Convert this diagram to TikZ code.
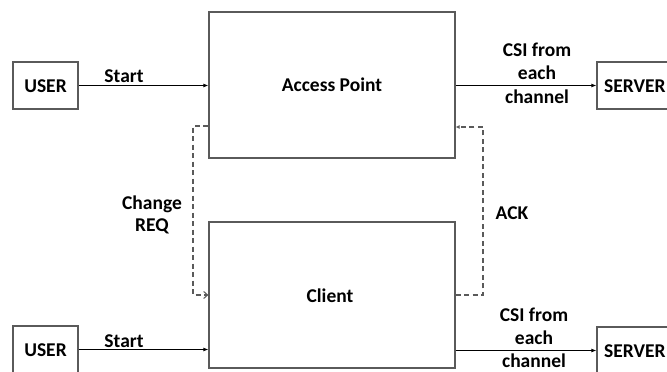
\documentclass[tikz,border=0pt]{standalone}
\usepackage{fontspec}
\setmainfont{Carlito}
\usetikzlibrary{arrows.meta}
\definecolor{edgegray}{HTML}{5A5A5A}
\tikzset{
  box/.style={draw=edgegray, line width=1.2pt, fill=white, inner sep=0pt},
  lbl/.style={font=\fontsize{19.5}{23}\selectfont\bfseries, inner sep=0pt, align=center},
  flow/.style={draw=black, line width=1.1pt, -{Latex[length=5pt,width=4pt]}},
  reqlink/.style={draw=edgegray, line width=1.2pt, dash pattern=on 5pt off 3.5pt,
    -{Straight Barb[length=4pt,width=7pt,line width=1pt]}},
  acklink/.style={draw=edgegray, line width=1.2pt, dash pattern=on 5pt off 3.5pt,
    -{Latex[length=4pt,width=4pt]}}
}
\begin{document}
\begin{tikzpicture}[x=1pt,y=-1pt]
  \useasboundingbox (0,0) rectangle (667,372);
  \begin{scope}
    \clip (0,0) rectangle (667,372);

    % main blocks
    \node[box, minimum width=246pt, minimum height=146pt] (ap) at (332,85) {};
    \node[box, minimum width=246pt, minimum height=146pt] (client) at (332,295) {};
    \node[lbl] (aptext) at (332,85) {Access Point};
    \node[lbl] (clienttext) at (330,296) {Client};

    % users and servers
    \node[box, minimum width=65pt, minimum height=47pt] (user1) at (45.5,85.5) {};
    \node[lbl] (user1text) at (45.5,86) {USER};
    \node[box, minimum width=65pt, minimum height=47pt] (user2) at (45.5,349.5) {};
    \node[lbl] (user2text) at (45.5,350) {USER};
    \node[box, minimum width=90pt, minimum height=47pt] (server1) at (642,85.5) {};
    \node[lbl, anchor=west] (server1text) at (604,86) {SERVER};
    \node[box, minimum width=90pt, minimum height=47pt] (server2) at (642,350.5) {};
    \node[lbl, anchor=west] (server2text) at (604,351) {SERVER};

    % solid flows
    \draw[flow] (user1.east) -- (user1.east -| ap.west);
    \draw[flow] (ap.east |- server1.west) -- (server1.west);
    \draw[flow] (user2.east) -- (user2.east -| client.west);
    \draw[flow] (client.east |- server2.west) -- (server2.west);

    % dashed control links
    \draw[reqlink] (ap.west |- 0,126) -- (193,126) |- (client.west |- 0,295);
    \draw[acklink] (client.east |- 0,295) -- (483,295) |- (ap.east |- 0,127);

    % labels
    \node[lbl, anchor=base] (startA) at (124,82) {Start};
    \node[lbl, anchor=base] (startB) at (124,347) {Start};
    \node[lbl, anchor=base] (csiA1) at (537,56) {CSI from};
    \node[lbl, anchor=base] (csiA2) at (537,79) {each};
    \node[lbl, anchor=base] (csiA3) at (537,103) {channel};
    \node[lbl, anchor=base] (csiB1) at (534,321) {CSI from};
    \node[lbl, anchor=base] (csiB2) at (534,344) {each};
    \node[lbl, anchor=base] (csiB3) at (534,367) {channel};
    \node[lbl, anchor=base] (req1) at (152,209) {Change};
    \node[lbl, anchor=base] (req2) at (152,231) {REQ};
    \node[lbl] (ack) at (512,213) {ACK};
  \end{scope}
\end{tikzpicture}
\end{document}
